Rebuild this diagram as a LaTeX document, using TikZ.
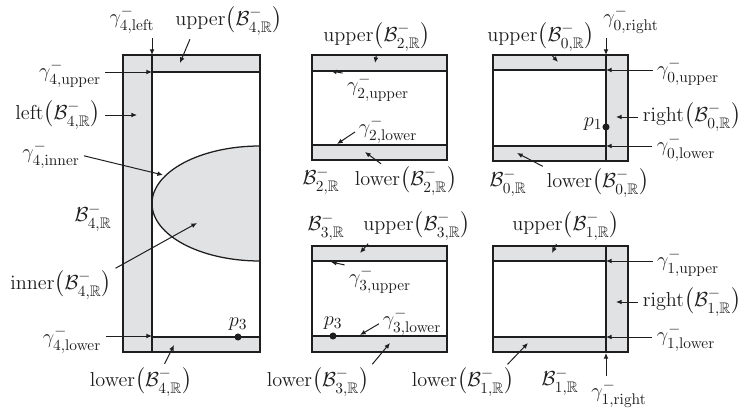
\documentclass[tikz,border=0pt]{standalone}
\usepackage{amsmath,amssymb}
\usepackage{tikz}
\usetikzlibrary{arrows.meta}
\definecolor{cband}{HTML}{E1E2E4}
\definecolor{cink}{HTML}{1E1E1E}
\newcommand{\Bset}[1]{\mathcal{B}^{-}_{#1,\mathbb{R}}}
\newcommand{\gset}[2]{\gamma^{-}_{#1,\mathrm{#2}}}
\newcommand{\sideof}[2]{\mathrm{#1}\bigl(\Bset{#2}\bigr)}
\tikzset{
  >={Latex[length=4pt,width=3.4pt]},
  outline/.style={draw=cink,line width=1pt},
  bound/.style={draw=cink,line width=0.9pt},
  band/.style={fill=cband},
  lbl/.style={font=\fontsize{15.5}{18}\selectfont,text=cink,inner sep=0.5pt},
  ptr/.style={->,draw=cink,line width=0.7pt,shorten <=2.5pt},
  dotm/.style={circle,fill=cink,inner sep=0pt,minimum size=5pt},
}

\begin{document}
\begin{tikzpicture}[x=0.025cm,y=-0.025cm]
\useasboundingbox (0,0) rectangle (745,412);

% ================= LEFT: B_4 =================
\fill[band] (123,55) rectangle (152,352);
\fill[band] (152,55) rectangle (260,72);
\fill[band] (152,337) rectangle (260,352);
\begin{scope}
  \clip (152,55) rectangle (260,352);
  \filldraw[band,bound] (260,203.5) ellipse [x radius=108,y radius=57.5];
\end{scope}
\draw[bound] (152,55) -- (152,352);
\draw[bound] (152,72) -- (260,72);
\draw[bound] (152,337) -- (260,337);
\draw[outline] (123,55) rectangle (260,352);
\node[dotm] (d4) at (238,337) {};

\coordinate (c4l) at (152,55);
\coordinate (c4u) at (180,63);
\coordinate (c4gu) at (152,72);
\coordinate (c4lt) at (137,115);
\coordinate (c4i) at (163,175);
\coordinate (c4in) at (197,223);
\coordinate (c4gl) at (152,336);
\coordinate (c4lo) at (174,345);

\node[lbl] (g4l) at (132,20) {$\gset{4}{left}$};
\node[lbl] (u4) at (229,21) {$\sideof{upper}{4}$};
\node[lbl] (g4u) at (70,74) {$\gset{4}{upper}$};
\node[lbl] (l4) at (58,115) {$\sideof{left}{4}$};
\node[lbl] (g4i) at (51,155) {$\gset{4}{inner}$};
\node[lbl] (b4) at (93,218) {$\Bset{4}$};
\node[lbl] (i4) at (61,285) {$\sideof{inner}{4}$};
\node[lbl] (g4lo) at (72,340) {$\gset{4}{lower}$};
\node[lbl] (lo4) at (141,382) {$\sideof{lower}{4}$};
\node[lbl,above=1pt] (p3a) at (d4.north) {$p_3$};

\draw[ptr] (g4l.south -| c4l) -- (c4l);
\draw[ptr] ([xshift=0.42cm]u4.south west) -- (c4u);
\draw[ptr] (g4u.east |- c4gu) -- (c4gu);
\draw[ptr] (l4.east |- c4lt) -- (c4lt);
\draw[ptr] (g4i.east) -- (c4i);
\draw[ptr] (i4.north east) -- (c4in);
\draw[ptr] (g4lo.east |- c4gl) -- (c4gl);
\draw[ptr] ([xshift=0.55cm]lo4.north) -- (c4lo);

% ================= MIDDLE TOP: B_2 =================
\fill[band] (312,55) rectangle (447,71);
\fill[band] (312,145) rectangle (447,160);
\draw[bound] (312,71) -- (447,71);
\draw[bound] (312,145) -- (447,145);
\draw[outline] (312,55) rectangle (447,160);

\coordinate (c2u) at (375,63);
\coordinate (c2gu) at (331,71);
\coordinate (c2gl) at (337,144);
\coordinate (c2lo) at (365,152);

\node[lbl] (u2) at (377,37) {$\sideof{upper}{2}$};
\node[lbl] (g2u) at (378,88) {$\gset{2}{upper}$};
\node[lbl] (g2lo) at (388,130) {$\gset{2}{lower}$};
\node[lbl] (b2) at (321,181) {$\Bset{2}$};
\node[lbl] (lo2) at (406,181) {$\sideof{lower}{2}$};

\draw[ptr] (u2.south) -- (c2u);
\draw[ptr] (g2u.north west) -- (c2gu);
\draw[ptr] (g2lo.west) -- (c2gl);
\draw[ptr] ([xshift=0.75cm]lo2.north west) -- (c2lo);

% ================= RIGHT TOP: B_0 =================
\fill[band] (606,55) rectangle (628,161);
\fill[band] (493,55) rectangle (606,70);
\fill[band] (493,146) rectangle (606,161);
\draw[bound] (606,55) -- (606,161);
\draw[bound] (493,70) -- (606,70);
\draw[bound] (493,146) -- (606,146);
\draw[outline] (493,55) rectangle (628,161);
\node[dotm] (d1) at (606,127) {};

\coordinate (c0u) at (558,62);
\coordinate (c0r) at (606,55);
\coordinate (c0gu) at (606,70);
\coordinate (c0rt) at (616,117);
\coordinate (c0gl) at (606,146);
\coordinate (c0lo) at (517,153);

\node[lbl] (u0) at (541,37) {$\sideof{upper}{0}$};
\node[lbl] (g0r) at (631,20) {$\gset{0}{right}$};
\node[lbl] (g0u) at (688,72) {$\gset{0}{upper}$};
\node[lbl] (r0) at (692,117) {$\sideof{right}{0}$};
\node[lbl] (g0lo) at (686,148) {$\gset{0}{lower}$};
\node[lbl] (b0) at (508,183) {$\Bset{0}$};
\node[lbl] (lo0) at (598,183) {$\sideof{lower}{0}$};
\node[lbl,left] (p1a) at (d1.north west) {$p_1$};

\draw[ptr] ([xshift=0.2cm]u0.south) -- (c0u);
\draw[ptr] (g0r.south -| c0r) -- (c0r);
\draw[ptr] (g0u.west |- c0gu) -- (c0gu);
\draw[ptr] (r0.west |- c0rt) -- (c0rt);
\draw[ptr] (g0lo.west |- c0gl) -- (c0gl);
\draw[ptr] (lo0.north west) -- (c0lo);

% ================= MIDDLE BOTTOM: B_3 =================
\fill[band] (312,246) rectangle (447,261);
\fill[band] (312,336) rectangle (447,352);
\draw[bound] (312,261) -- (447,261);
\draw[bound] (312,336) -- (447,336);
\draw[outline] (312,246) rectangle (447,352);
\node[dotm] (d3) at (333,336) {};

\coordinate (c3u) at (360,253);
\coordinate (c3gu) at (331,262);
\coordinate (c3gl) at (360,335);
\coordinate (c3lo) at (390,343);

\node[lbl] (b3) at (326,227) {$\Bset{3}$};
\node[lbl] (u3) at (417,226) {$\sideof{upper}{3}$};
\node[lbl] (g3u) at (380,280) {$\gset{3}{upper}$};
\node[lbl] (g3lo) at (412,322) {$\gset{3}{lower}$};
\node[lbl] (lo3) at (318,382) {$\sideof{lower}{3}$};
\node[lbl,above=1pt] (p3b) at (d3.north) {$p_3$};

\draw[ptr] ([xshift=0.2cm]u3.south west) -- (c3u);
\draw[ptr] (g3u.north west) -- (c3gu);
\draw[ptr] (g3lo.west) -- (c3gl);
\draw[ptr] (lo3.north east) -- (c3lo);

% ================= RIGHT BOTTOM: B_1 =================
\fill[band] (606,246) rectangle (628,352);
\fill[band] (493,246) rectangle (606,261);
\fill[band] (493,337) rectangle (606,352);
\draw[bound] (606,246) -- (606,352);
\draw[bound] (493,261) -- (606,261);
\draw[bound] (493,337) -- (606,337);
\draw[outline] (493,246) rectangle (628,352);

\coordinate (c1u) at (552,253);
\coordinate (c1gu) at (606,261);
\coordinate (c1rt) at (616,302);
\coordinate (c1gl) at (606,337);
\coordinate (c1lo) at (528,343);
\coordinate (c1r) at (606,353);

\node[lbl] (u1) at (566,226) {$\sideof{upper}{1}$};
\node[lbl] (g1u) at (688,263) {$\gset{1}{upper}$};
\node[lbl] (r1) at (692,302) {$\sideof{right}{1}$};
\node[lbl] (g1lo) at (686,338) {$\gset{1}{lower}$};
\node[lbl] (lo1) at (463,382) {$\sideof{lower}{1}$};
\node[lbl] (b1) at (560,382) {$\Bset{1}$};
\node[lbl] (g1r) at (619,394) {$\gset{1}{right}$};

\draw[ptr] ([xshift=-0.2cm]u1.south) -- (c1u);
\draw[ptr] (g1u.west |- c1gu) -- (c1gu);
\draw[ptr] (r1.west |- c1rt) -- (c1rt);
\draw[ptr] (g1lo.west |- c1gl) -- (c1gl);
\draw[ptr] ([xshift=-0.25cm]lo1.north east) -- (c1lo);
\draw[ptr] (g1r.north -| c1r) -- (c1r);

\end{tikzpicture}
\end{document}
